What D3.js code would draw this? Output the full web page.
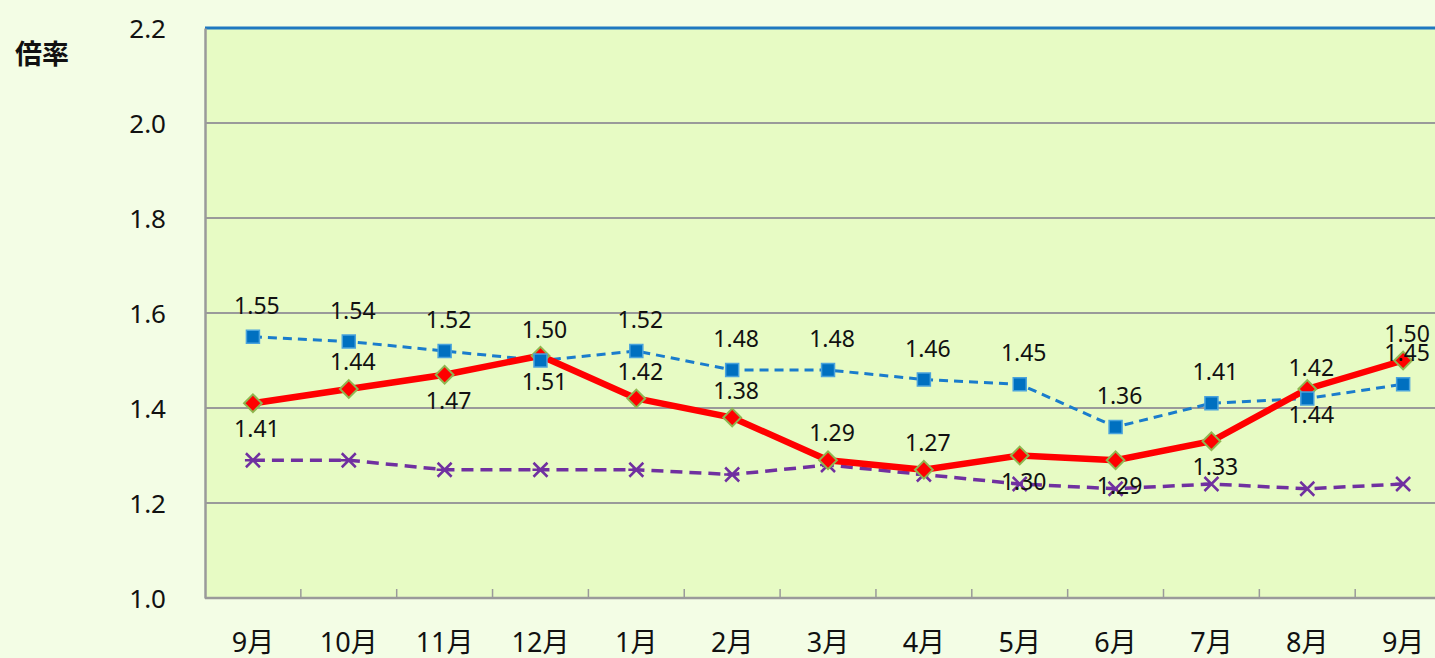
<!DOCTYPE html>
<html>
<head>
<meta charset="utf-8">
<script src="https://cdn.jsdelivr.net/npm/d3@7"></script>
<style>
  html, body { margin: 0; padding: 0; background: #f3fde5; }
  svg text { font-family: "Noto Sans", "Noto Sans CJK JP", sans-serif; fill: #111; }
</style>
</head>
<body>
<div id="chart"></div>
<script>
//Datos del gráfico
const months = ['9月','10月','11月','12月','1月','2月','3月','4月','5月','6月','7月','8月','9月'];
const blueValues = [1.55, 1.54, 1.52, 1.50, 1.52, 1.48, 1.48, 1.46, 1.45, 1.36, 1.41, 1.42, 1.45];
const redValues = [1.41, 1.44, 1.47, 1.51, 1.42, 1.38, 1.29, 1.27, 1.30, 1.29, 1.33, 1.44, 1.50];
const purpleValues = [1.29, 1.29, 1.27, 1.27, 1.27, 1.26, 1.28, 1.26, 1.24, 1.23, 1.24, 1.23, 1.24];
const redLabelSide = ['below','above','below','below','above','above','above','above','below','below','below','below','above'];
const yTicks = [1.0, 1.2, 1.4, 1.6, 1.8, 2.0, 2.2];

const COLOR_BLUE = '#0070c0',
COLOR_BLUE_EDGE = '#4aa3dc',
COLOR_RED = '#ff0000',
COLOR_RED_EDGE = '#8fb550',
COLOR_PURPLE = '#7030a0',
COLOR_GRID = '#9a9a9a',
COLOR_PLOT = '#e7fbc4';

///Valores iniciales de altura, anchura y márgenes
let margin = {top: 28, right: 0, bottom: 60, left: 205},
    fullWidth = 1435, fullHeight = 658,
    height = fullHeight - margin.top - margin.bottom,
    band = 95.85,
    width = band * months.length;

let svg = d3.select('#chart')
    .append('svg')
        .attr('width', fullWidth)
        .attr('height', fullHeight)
    .append('g')
        .attr('transform', 'translate(' + margin.left + ',' + margin.top + ')');

let x = d3.scaleBand()
    .domain(d3.range(months.length))
    .range([0, width]);

let y = d3.scaleLinear()
    .domain([1.0, 2.2])
    .range([height, 0]);

//Fondo del área
svg.append('rect')
    .attr('x', 0).attr('y', 0)
    .attr('width', width).attr('height', height)
    .attr('fill', COLOR_PLOT);

//Rejilla
svg.append('g')
    .selectAll('line')
    .data(yTicks.filter(function(d) { return d > 1.0 && d < 2.2; }))
    .enter()
    .append('line')
    .attr('x1', 0).attr('x2', width)
    .attr('y1', function(d) { return y(d); })
    .attr('y2', function(d) { return y(d); })
    .attr('stroke', COLOR_GRID)
    .attr('stroke-width', 2);

//Línea superior
svg.append('line')
    .attr('x1', 0).attr('x2', width)
    .attr('y1', y(2.2)).attr('y2', y(2.2))
    .attr('stroke', '#1f78c0')
    .attr('stroke-width', 3);

//Eje Y
let yAxis = svg.append('g')
    .call(d3.axisLeft(y).tickValues(yTicks).tickFormat(d3.format('.1f')).tickSize(0).tickPadding(39));
yAxis.select('.domain').attr('stroke', COLOR_GRID).attr('stroke-width', 2.5);
yAxis.selectAll('text').style('font-size', '26px').attr('dy', '0.35em');

//Eje X
let xAxis = svg.append('g')
    .attr('transform', 'translate(0,' + height + ')');
xAxis.append('line')
    .attr('x1', 0).attr('x2', width)
    .attr('stroke', COLOR_GRID).attr('stroke-width', 2.5);
xAxis.selectAll('.tick-mark')
    .data(d3.range(1, months.length))
    .enter()
    .append('line')
    .attr('x1', function(d) { return x(d); })
    .attr('x2', function(d) { return x(d); })
    .attr('y1', 0).attr('y2', -9)
    .attr('stroke', COLOR_GRID).attr('stroke-width', 1.5);
xAxis.selectAll('.month')
    .data(months)
    .enter()
    .append('text')
    .attr('x', function(d, i) { return x(i) + x.bandwidth() / 2; })
    .attr('y', 43)
    .attr('text-anchor', 'middle')
    .attr('dominant-baseline', 'central')
    .style('font-size', '27px')
    .text(function(d) { return d; });

//Título eje
svg.append('text')
    .attr('x', 15 - margin.left)
    .attr('y', 52 - margin.top)
    .attr('dominant-baseline', 'central')
    .style('font-family', '"Noto Sans CJK JP", sans-serif')
    .style('font-size', '27px')
    .style('font-weight', 'bold')
    .text('倍率');

let cx = function(i) { return x(i) + x.bandwidth() / 2; };
let line = d3.line()
    .x(function(d, i) { return cx(i); })
    .y(function(d) { return y(d); });

//Serie morada
svg.append('path')
    .datum(purpleValues)
    .attr('d', line)
    .attr('fill', 'none')
    .attr('stroke', COLOR_PURPLE)
    .attr('stroke-width', 3.5)
    .attr('stroke-dasharray', '12,7');
svg.append('g')
    .selectAll('path')
    .data(purpleValues)
    .enter()
    .append('path')
    .attr('transform', function(d, i) { return 'translate(' + cx(i) + ',' + y(d) + ')'; })
    .attr('d', 'M-7,-7L7,7M-7,7L7,-7M-8,0L0,0')
    .attr('stroke', COLOR_PURPLE)
    .attr('stroke-width', 2.5)
    .attr('fill', 'none');

//Serie azul
svg.append('path')
    .datum(blueValues)
    .attr('d', line)
    .attr('fill', 'none')
    .attr('stroke', '#1a7ccc')
    .attr('stroke-width', 3)
    .attr('stroke-dasharray', '9,6');

//Serie roja
svg.append('path')
    .datum(redValues)
    .attr('d', line)
    .attr('fill', 'none')
    .attr('stroke', COLOR_RED)
    .attr('stroke-width', 6.5);

svg.append('g')
    .selectAll('path')
    .data(redValues)
    .enter()
    .append('path')
    .attr('transform', function(d, i) { return 'translate(' + cx(i) + ',' + y(d) + ')'; })
    .attr('d', d3.symbol().type(d3.symbolDiamond2).size(200))
    .attr('fill', COLOR_RED)
    .attr('stroke', COLOR_RED_EDGE)
    .attr('stroke-width', 2);

svg.append('g')
    .selectAll('rect')
    .data(blueValues)
    .enter()
    .append('rect')
    .attr('x', function(d, i) { return cx(i) - 6.5; })
    .attr('y', function(d) { return y(d) - 6.5; })
    .attr('width', 13).attr('height', 13)
    .attr('fill', COLOR_BLUE)
    .attr('stroke', COLOR_BLUE_EDGE)
    .attr('stroke-width', 1.5);

//Etiquetas
svg.append('g')
    .selectAll('text')
    .data(blueValues)
    .enter()
    .append('text')
    .attr('x', function(d, i) { return cx(i) + 4; })
    .attr('y', function(d) { return y(d) - 32; })
    .attr('text-anchor', 'middle')
    .attr('dominant-baseline', 'central')
    .style('font-size', '23px')
    .text(function(d) { return d.toFixed(2); });

svg.append('g')
    .selectAll('text')
    .data(redValues)
    .enter()
    .append('text')
    .attr('x', function(d, i) { return cx(i) + 4; })
    .attr('y', function(d, i) { return y(d) + (redLabelSide[i] == 'above' ? -28 : 25); })
    .attr('text-anchor', 'middle')
    .attr('dominant-baseline', 'central')
    .style('font-size', '23px')
    .text(function(d) { return d.toFixed(2); });
</script>
</body>
</html>
